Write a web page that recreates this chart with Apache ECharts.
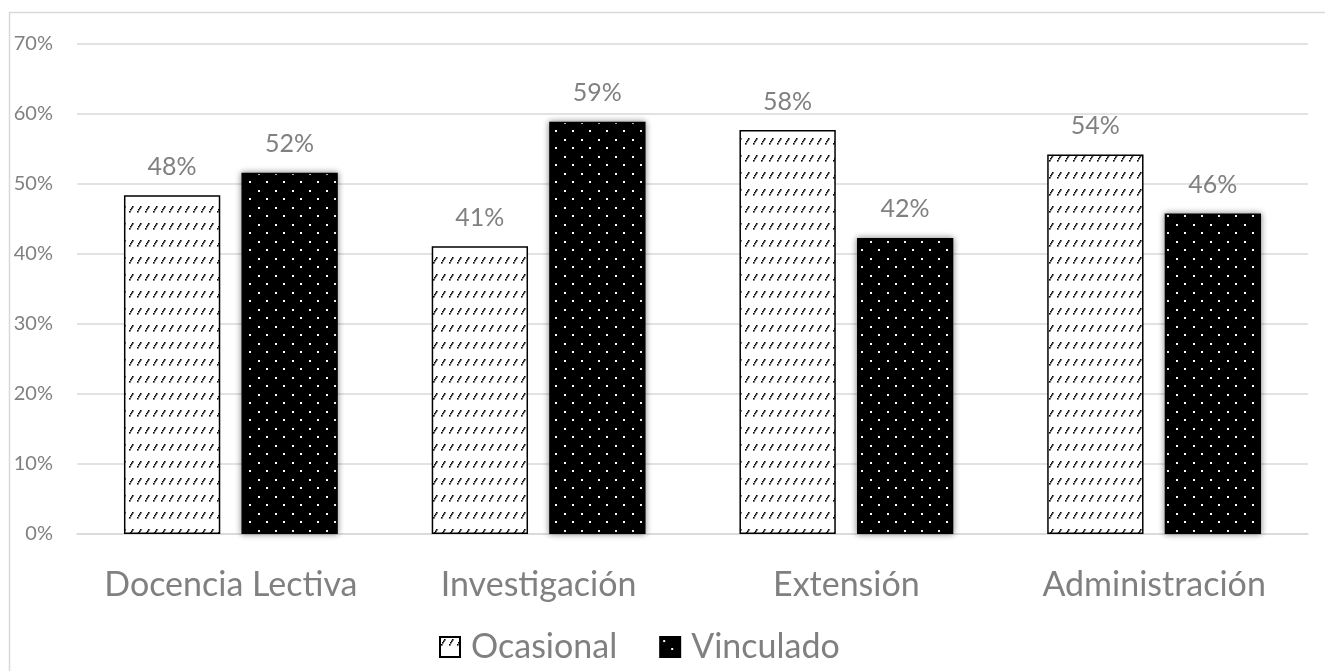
<!DOCTYPE html>
<html>
<head>
<meta charset="utf-8">
<script src="https://cdn.jsdelivr.net/npm/echarts@6/dist/echarts.min.js"></script>
<style>
html,body{margin:0;padding:0;background:#fff;}
#chart{width:1325px;height:671px;}
</style>
</head>
<body>
<div id="chart"></div>
<script>
const categories = ['Docencia Lectiva', 'Investigación', 'Extensión', 'Administración'];
const seriesNames = ['Ocasional', 'Vinculado'];
const ocasional = [48.4, 41.1, 57.7, 54.2];
const vinculado = [51.6, 58.9, 42.3, 45.8];
const yTicks = [0, 10, 20, 30, 40, 50, 60, 70];

function hatchPattern() {
  const c = document.createElement('canvas');
  c.width = 8; c.height = 17;
  const ctx = c.getContext('2d');
  ctx.fillStyle = '#fff';
  ctx.fillRect(0, 0, 8, 17);
  ctx.fillStyle = '#000';
  ctx.fillRect(1, 7, 1.6, 1.6);
  ctx.fillRect(2, 5, 1.6, 1.6);
  ctx.fillRect(3, 3.5, 1.6, 1.6);
  ctx.fillRect(4, 2, 1.6, 1.6);
  return c;
}
function dotPattern() {
  const c = document.createElement('canvas');
  c.width = 17; c.height = 17;
  const ctx = c.getContext('2d');
  ctx.fillStyle = '#000';
  ctx.fillRect(0, 0, 17, 17);
  ctx.fillStyle = '#fff';
  ctx.fillRect(3, 3, 2, 2);
  ctx.fillRect(11, 11, 2, 2);
  return c;
}

const FONT = 'Lato';
const GRAY = '#808080';
const chart = echarts.init(document.getElementById('chart'), null, {renderer: 'canvas'});
chart.setOption({
  animation: false,
  backgroundColor: '#fff',
  graphic: [{
    type: 'rect', left: 7, top: 10, silent: true, z: -1,
    shape: {x: 0, y: 0, width: 1500, height: 900},
    style: {fill: 'none', stroke: '#d9d9d9', lineWidth: 1.5}
  }],
  grid: {left: 77, right: 17, top: 44, bottom: 137, containLabel: false},
  legend: {
    data: seriesNames,
    bottom: 2,
    left: 434,
    icon: 'rect',
    itemWidth: 20, itemHeight: 20, itemGap: 42,
    textStyle: {color: GRAY, fontSize: 34, fontFamily: FONT, padding: [0, 0, 0, 6]}
  },
  xAxis: {
    type: 'category',
    data: categories,
    axisLine: {show: true, lineStyle: {color: '#d9d9d9', width: 1.5}},
    axisTick: {show: false},
    axisLabel: {color: GRAY, fontSize: 34, fontFamily: FONT, margin: 34, interval: 0}
  },
  yAxis: {
    type: 'value',
    min: 0, max: 70, interval: 10,
    axisLine: {show: false},
    axisTick: {show: false},
    splitLine: {lineStyle: {color: '#d9d9d9', width: 1.5}},
    axisLabel: {
      color: GRAY, fontSize: 20, fontFamily: FONT, margin: 24,
      formatter: v => yTicks.includes(v) ? v + '%' : ''
    }
  },
  series: [
    {
      name: seriesNames[0], type: 'bar', data: ocasional,
      barWidth: '31.3%', barGap: '22%',
      itemStyle: {color: {image: hatchPattern(), repeat: 'repeat'}, borderColor: '#000', borderWidth: 1.5},
      label: {show: true, position: 'top', distance: 16, color: GRAY, fontSize: 25, fontFamily: FONT,
        formatter: p => Math.round(p.value) + '%'}
    },
    {
      name: seriesNames[1], type: 'bar', data: vinculado,
      barWidth: '31.3%', barGap: '22%',
      itemStyle: {color: {image: dotPattern(), repeat: 'repeat'}, borderColor: '#000', borderWidth: 1.5,
        shadowBlur: 6, shadowColor: 'rgba(0,0,0,0.45)'},
      label: {show: true, position: 'top', distance: 16, color: GRAY, fontSize: 25, fontFamily: FONT,
        formatter: p => Math.round(p.value) + '%'}
    }
  ]
});
</script>
</body>
</html>
